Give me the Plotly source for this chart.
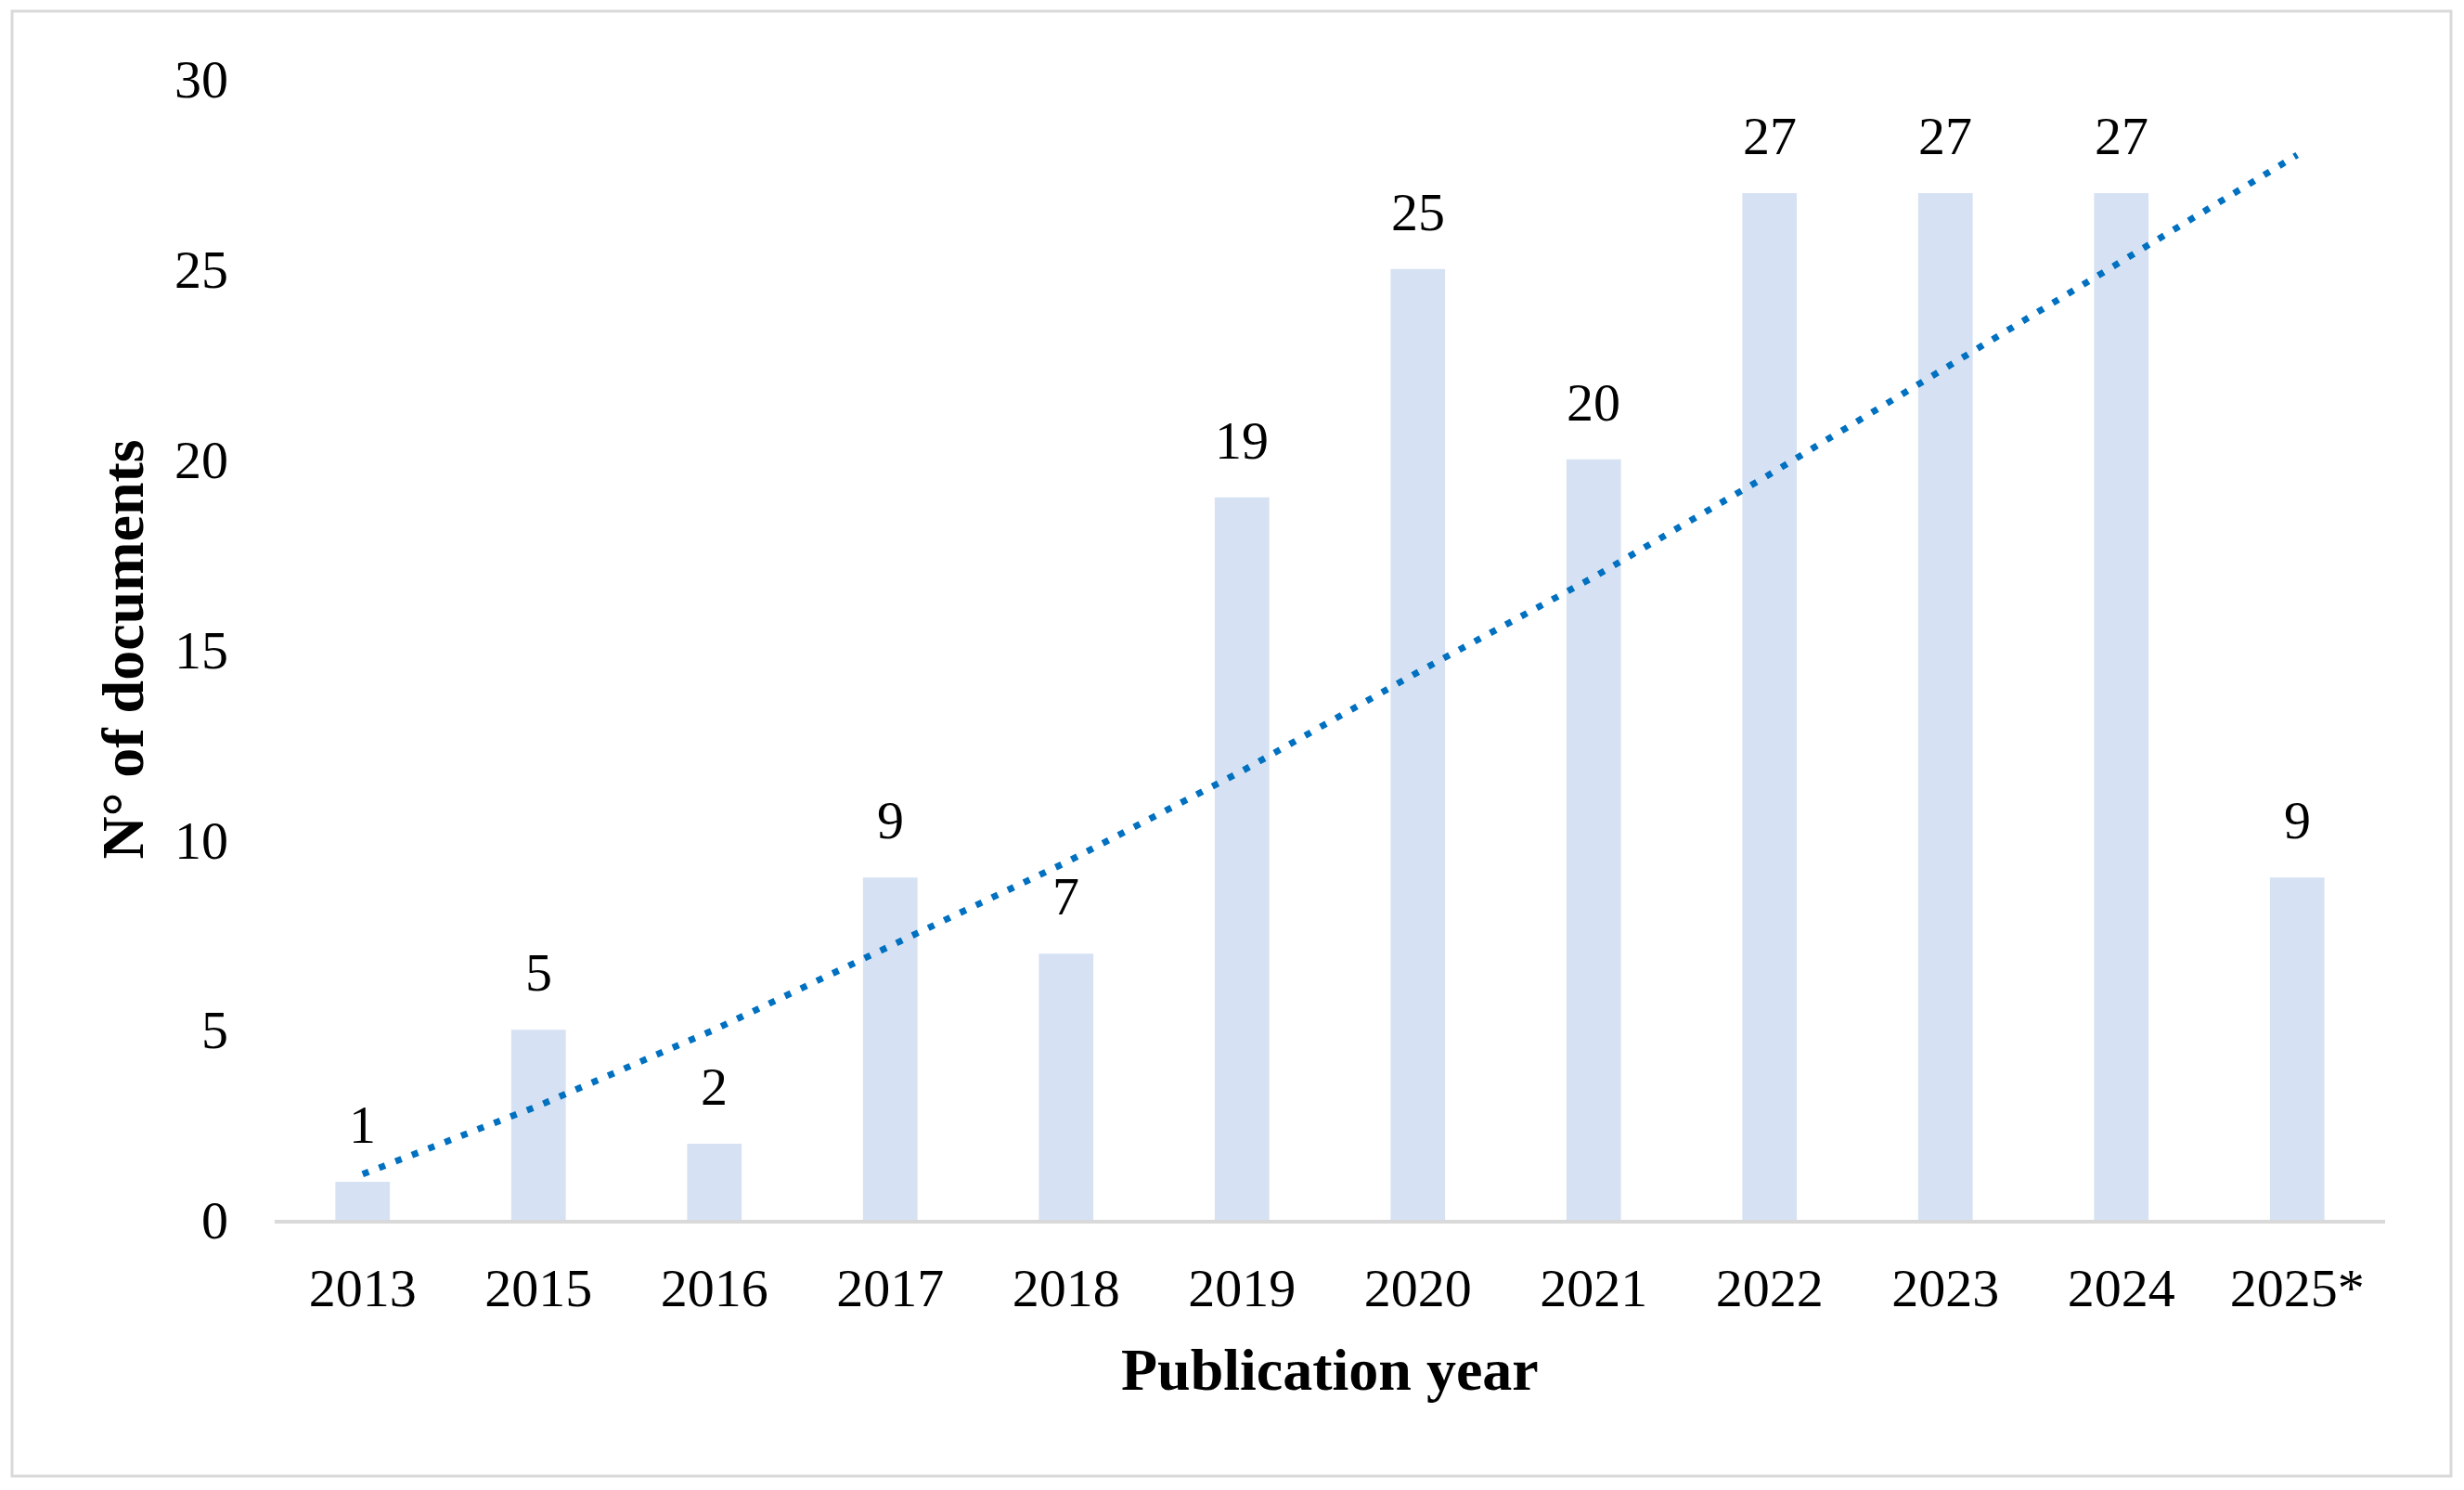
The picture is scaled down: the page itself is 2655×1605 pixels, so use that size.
import plotly.graph_objects as go

# ---- data ----
years = ["2013", "2015", "2016", "2017", "2018", "2019", "2020", "2021", "2022", "2023", "2024", "2025*"]
documents = [1, 5, 2, 9, 7, 19, 25, 20, 27, 27, 27, 9]
trend = [1.2, 3.0, 5.0, 7.2, 9.4, 11.8, 14.4, 16.9, 19.6, 22.4, 25.2, 28.0]
y_ticks = [0, 5, 10, 15, 20, 25, 30]

x_title = "Publication year"
y_title = "N° of documents"

# ---- layout constants ----
W, H = 2655, 1605
ML, MR, MT, MB = 296, 85, 85, 291
PW = W - ML - MR
PH = H - MT - MB
FONT = "Liberation Serif, Times New Roman, serif"
BAR_COLOR = "#D6E2F3"
TREND_COLOR = "#0070C0"
GRAY = "#D9D9D9"


def px_x(p):
    return (p - ML) / PW


def px_y(p):
    return (H - MB - p) / PH


fig = go.Figure()

fig.add_trace(go.Bar(
    x=years, y=documents,
    marker=dict(color=BAR_COLOR, line=dict(width=0)),
    hoverinfo="x+y", showlegend=False,
))

fig.add_trace(go.Scatter(
    x=years, y=trend, mode="lines",
    line=dict(color=TREND_COLOR, width=7, dash="7px,12px"),
    hoverinfo="skip", showlegend=False,
))

annotations = []
for i, v in enumerate(documents):
    # category axes take the category index for annotation positions
    annotations.append(dict(
        x=i, y=v, xref="x", yref="y", text=str(v), showarrow=False,
        yanchor="bottom", xanchor="center", yshift=27,
        font=dict(family=FONT, size=58, color="#000000"),
    ))

annotations.append(dict(
    x=0.5, y=px_y(1475), xref="paper", yref="paper", text=f"<b>{x_title}</b>",
    showarrow=False, xanchor="center", yanchor="middle",
    font=dict(family=FONT, size=64, color="#000000"),
))
annotations.append(dict(
    x=px_x(132), y=0.5, xref="paper", yref="paper", text=f"<b>{y_title}</b>",
    showarrow=False, xanchor="center", yanchor="middle", textangle=-90,
    font=dict(family=FONT, size=64, color="#000000"),
))

fig.update_layout(
    width=W, height=H,
    margin=dict(l=ML, r=MR, t=MT, b=MB, pad=0, autoexpand=False),
    paper_bgcolor="white", plot_bgcolor="white",
    bargap=0.69,
    annotations=annotations,
    shapes=[dict(
        type="rect", xref="paper", yref="paper",
        x0=px_x(13), x1=px_x(2641), y0=px_y(1590), y1=px_y(12),
        line=dict(color=GRAY, width=3), fillcolor="rgba(0,0,0,0)", layer="below",
    )],
    font=dict(family=FONT, color="#000000"),
)

fig.update_xaxes(
    type="category", range=[-0.5, len(years) - 0.5],
    showline=True, linecolor=GRAY, linewidth=4,
    showgrid=False, zeroline=False, ticks="",
    tickfont=dict(family=FONT, size=58, color="#000000"),
    ticklabelstandoff=19,
)
fig.update_yaxes(
    range=[0, 30], tickvals=y_ticks, ticktext=[str(t) for t in y_ticks],
    showline=False, showgrid=False, zeroline=False, ticks="",
    tickfont=dict(family=FONT, size=58, color="#000000"),
    ticklabelstandoff=49,
)

fig.write_html(
    "out.html",
    config={"displayModeBar": False},
    post_script="document.body.style.margin='0';document.body.style.overflow='hidden';",
)
